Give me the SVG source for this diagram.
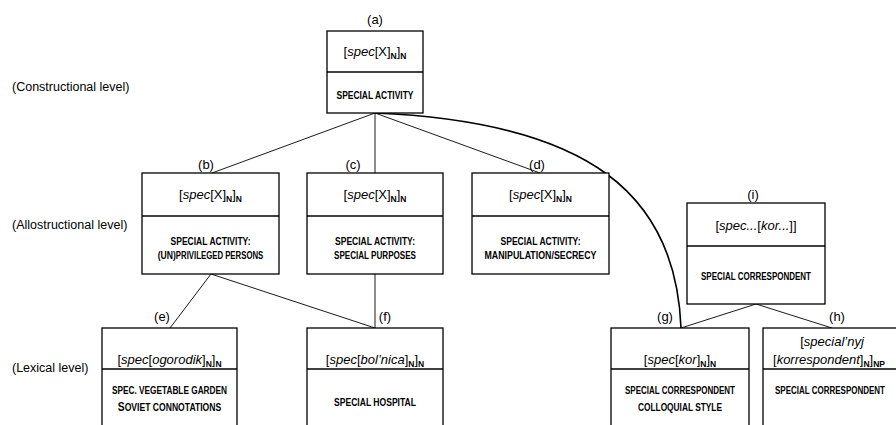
<svg xmlns="http://www.w3.org/2000/svg" width="896" height="425" viewBox="0 0 896 425">
<style>
text{font-family:"Liberation Sans",Arial,sans-serif;fill:#000}
.lvl{font-size:12.5px}
.lab{font-size:13px;text-anchor:middle}
.f{font-size:13px;text-anchor:middle}
.s{font-size:8.5px;font-weight:bold}
.c{font-size:10px;font-weight:bold;text-anchor:middle}
.box{fill:#fff;stroke:#000;stroke-width:1.3}
.dv{stroke:#000;stroke-width:1.3}
.ln{fill:none;stroke:#000;stroke-width:0.9}
.cv{fill:none;stroke:#000;stroke-width:1.6}
</style>
<rect width="896" height="425" fill="#fff"/>
<g id="levels">
<text class="lvl" x="12" y="91">(Constructional level)</text>
<text class="lvl" x="12" y="229">(Allostructional level)</text>
<text class="lvl" x="12" y="372">(Lexical level)</text>
</g>
<g id="connectors">
<line class="ln" x1="375" y1="113" x2="212" y2="173"/>
<line class="ln" x1="375" y1="113" x2="375" y2="173"/>
<line class="ln" x1="375" y1="113" x2="540" y2="173"/>
<path class="cv" d="M375,113 C590,122 676,195 681,328"/>
<line class="ln" x1="211" y1="274" x2="170" y2="328"/>
<line class="ln" x1="211" y1="274" x2="375" y2="328"/>
<line class="ln" x1="375" y1="274" x2="375" y2="328"/>
<line class="ln" x1="756" y1="304" x2="681" y2="328"/>
<line class="ln" x1="756" y1="304" x2="832" y2="328"/>
</g>
<g id="node-a">
<rect class="box" x="327" y="31" width="96" height="82"/>
<line class="dv" x1="327" y1="72" x2="423" y2="72"/>
<text class="lab" x="375" y="24">(a)</text>
<text class="f" x="375" y="56">[<tspan font-style="italic">spec</tspan>[X]<tspan class="s" dy="3">N</tspan><tspan dy="-3">]</tspan><tspan class="s" dy="3">N</tspan></text>
<text class="c" x="375" y="99" textLength="77" lengthAdjust="spacingAndGlyphs">SPECIAL ACTIVITY</text>
</g>
<g id="node-b">
<rect class="box" x="142" y="173" width="137" height="101"/>
<line class="dv" x1="142" y1="216" x2="279" y2="216"/>
<text class="lab" x="206" y="169">(b)</text>
<text class="f" x="210.5" y="199">[<tspan font-style="italic">spec</tspan>[X]<tspan class="s" dy="3">N</tspan><tspan dy="-3">]</tspan><tspan class="s" dy="3">N</tspan></text>
<text class="c" x="210.5" y="245" textLength="80" lengthAdjust="spacingAndGlyphs">SPECIAL ACTIVITY:</text>
<text class="c" transform="translate(210.5,259) scale(0.78,1)" x="0" y="0"><tspan font-size="11">(UN)</tspan>PRIVILEGED PERSONS</text>
</g>
<g id="node-c">
<rect class="box" x="307" y="173" width="136" height="101"/>
<line class="dv" x1="307" y1="216" x2="443" y2="216"/>
<text class="lab" x="353" y="169">(c)</text>
<text class="f" x="375" y="199">[<tspan font-style="italic">spec</tspan>[X]<tspan class="s" dy="3">N</tspan><tspan dy="-3">]</tspan><tspan class="s" dy="3">N</tspan></text>
<text class="c" x="375" y="245" textLength="80" lengthAdjust="spacingAndGlyphs">SPECIAL ACTIVITY:</text>
<text class="c" x="375" y="259" textLength="82" lengthAdjust="spacingAndGlyphs">SPECIAL PURPOSES</text>
</g>
<g id="node-d">
<rect class="box" x="472" y="173" width="137" height="101"/>
<line class="dv" x1="472" y1="216" x2="609" y2="216"/>
<text class="lab" x="537" y="169">(d)</text>
<text class="f" x="540.5" y="199">[<tspan font-style="italic">spec</tspan>[X]<tspan class="s" dy="3">N</tspan><tspan dy="-3">]</tspan><tspan class="s" dy="3">N</tspan></text>
<text class="c" x="540.5" y="245" textLength="80" lengthAdjust="spacingAndGlyphs">SPECIAL ACTIVITY:</text>
<text class="c" x="540.5" y="259" textLength="112" lengthAdjust="spacingAndGlyphs">MANIPULATION/SECRECY</text>
</g>
<g id="node-i">
<rect class="box" x="687" y="203" width="138" height="101"/>
<line class="dv" x1="687" y1="246" x2="825" y2="246"/>
<text class="lab" x="753" y="199">(i)</text>
<text class="f" x="756" y="230">[<tspan font-style="italic">spec...</tspan>[<tspan font-style="italic">kor...</tspan>]]</text>
<text class="c" x="756" y="280" textLength="110" lengthAdjust="spacingAndGlyphs">SPECIAL CORRESPONDENT</text>
</g>
<g id="node-e">
<rect class="box" x="102" y="328" width="135" height="110"/>
<line class="dv" x1="102" y1="369" x2="237" y2="369"/>
<text class="lab" x="162" y="321">(e)</text>
<text class="f" x="169.5" y="364">[<tspan font-style="italic">spec</tspan>[<tspan font-style="italic">ogorodik</tspan>]<tspan class="s" dy="3">N</tspan><tspan dy="-3">]</tspan><tspan class="s" dy="3">N</tspan></text>
<text class="c" x="169.5" y="394" textLength="115" lengthAdjust="spacingAndGlyphs">SPEC. VEGETABLE GARDEN</text>
<text class="c" transform="translate(169.5,411) scale(0.86,1)" x="0" y="0"><tspan font-size="12">S</tspan>OVIET CONNOTATIONS</text>
</g>
<g id="node-f">
<rect class="box" x="307" y="328" width="136" height="110"/>
<line class="dv" x1="307" y1="369" x2="443" y2="369"/>
<text class="lab" x="385" y="321">(f)</text>
<text class="f" x="375" y="364">[<tspan font-style="italic">spec</tspan>[<tspan font-style="italic">bol’nica</tspan>]<tspan class="s" dy="3">N</tspan><tspan dy="-3">]</tspan><tspan class="s" dy="3">N</tspan></text>
<text class="c" x="375" y="406" textLength="82" lengthAdjust="spacingAndGlyphs">SPECIAL HOSPITAL</text>
</g>
<g id="node-g">
<rect class="box" x="611" y="328" width="138" height="110"/>
<line class="dv" x1="611" y1="369" x2="749" y2="369"/>
<text class="lab" x="665" y="321">(g)</text>
<text class="f" x="680" y="364">[<tspan font-style="italic">spec</tspan>[<tspan font-style="italic">kor</tspan>]<tspan class="s" dy="3">N</tspan><tspan dy="-3">]</tspan><tspan class="s" dy="3">N</tspan></text>
<text class="c" x="680" y="394" textLength="110" lengthAdjust="spacingAndGlyphs">SPECIAL CORRESPONDENT</text>
<text class="c" x="680" y="411" textLength="84" lengthAdjust="spacingAndGlyphs">COLLOQUIAL STYLE</text>
</g>
<g id="node-h">
<rect class="box" x="763" y="328" width="140" height="110"/>
<line class="dv" x1="763" y1="369" x2="903" y2="369"/>
<text class="lab" x="837" y="321">(h)</text>
<text class="f" x="832" y="346">[<tspan font-style="italic">special’nyj</tspan></text>
<text class="f" x="829" y="364">[<tspan font-style="italic">korrespondent</tspan>]<tspan class="s" dy="3">N</tspan><tspan dy="-3">]</tspan><tspan class="s" dy="3">NP</tspan></text>
<text class="c" transform="translate(830,394) scale(0.8,1)" x="0" y="0">SPECIAL CORRESPONDENT</text>
</g>
</svg>
